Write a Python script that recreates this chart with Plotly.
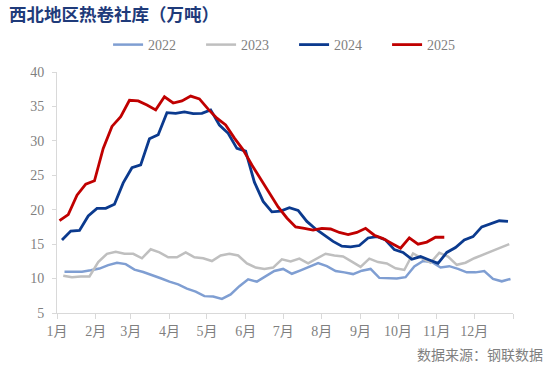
import plotly.graph_objects as go
import pandas as pd

# ---- data (weekly, 万吨) ----
series_names = ["2022", "2023", "2024", "2025"]
start_dates = ["2022-01-07", "2023-01-06", "2024-01-05", "2025-01-03"]

values_2022 = [11.0, 11.0, 11.0, 11.2, 11.45, 11.95, 12.3, 12.1, 11.3, 10.95,
               10.55, 10.05, 9.55, 9.15, 8.55, 8.1, 7.45, 7.4, 7.05, 7.7,
               8.9, 9.9, 9.55, 10.3, 11.1, 11.4, 10.7, 11.2, 11.75, 12.25,
               11.8, 11.1, 10.9, 10.65, 11.15, 11.4, 10.1, 10.1, 10.0, 10.2,
               11.75, 12.55, 12.4, 11.6, 11.8, 11.4, 10.9, 10.9, 11.1, 9.95,
               9.6, 9.95]
values_2023 = [10.4, 10.2, 10.3, 10.3, 12.4, 13.6, 13.9, 13.6, 13.6, 12.95,
               14.25, 13.8, 13.1, 13.1, 13.8, 13.1, 12.95, 12.55, 13.35, 13.6,
               13.35, 12.2, 11.6, 11.4, 11.6, 12.8, 12.5, 12.9, 12.2, 12.95,
               13.6, 13.35, 13.2, 12.45, 11.7, 12.9, 12.4, 12.2, 11.5, 11.25,
               13.65, 12.95, 12.3, 13.75, 13.2, 12.0, 12.3, 12.95, 13.5, 14.05,
               14.5, 15.0]
values_2024 = [15.6, 16.9, 17.0, 19.1, 20.2, 20.2, 20.8, 23.9, 26.1, 26.5,
               30.3, 30.9, 34.1, 34.0, 34.2, 33.95, 34.0, 34.5, 32.3, 31.1,
               28.9, 28.5, 24.0, 21.2, 19.7, 19.8, 20.3, 19.9, 18.3, 17.2,
               16.3, 15.4, 14.7, 14.6, 14.8, 15.9, 16.1, 15.6, 14.2, 13.8,
               12.8, 13.2, 12.7, 12.2, 13.8, 14.5, 15.6, 16.1, 17.5, 18.0,
               18.4, 18.3]
values_2025 = [18.4, 19.3, 22.1, 23.7, 24.2, 28.9, 32.1, 33.5, 35.9, 35.8,
               35.2, 34.5, 36.4, 35.5, 35.8, 36.5, 36.1, 34.6, 33.3, 32.3,
               30.4, 28.7, 26.5, 24.4, 22.3, 20.4, 18.8, 17.5, 17.3, 17.05,
               17.3, 17.2, 16.7, 16.4, 16.7, 17.3, 16.3, 15.8, 15.1, 14.4,
               15.9, 15.0, 15.3, 16.0, 16.0]

series_values = [values_2022, values_2023, values_2024, values_2025]
series_colors = ["#7F9ED2", "#BFBFBF", "#0B3A8E", "#C00000"]
series_widths = [2.5, 2.5, 2.8, 2.8]

month_labels = ["1月", "2月", "3月", "4月", "5月", "6月", "7月", "8月",
                "9月", "10月", "11月", "12月", ""]
month_starts = [0, 31, 59, 90, 120, 151, 181, 212, 243, 273, 304, 334, 365]

title_text = "西北地区热卷社库（万吨）"
source_text = "数据来源：钢联数据"

fig = go.Figure()
for name, start, vals, col, w in zip(series_names, start_dates, series_values,
                                     series_colors, series_widths):
    dates = pd.date_range(start, periods=len(vals), freq="7D")
    x = [(d - pd.Timestamp(year=d.year, month=1, day=1)).days for d in dates]
    fig.add_trace(go.Scatter(x=x, y=vals, mode="lines", name=name,
                             line=dict(color=col, width=w)))

axis_font = dict(family="Liberation Serif, Noto Sans CJK SC", size=14, color="#7f7f7f")

fig.update_layout(
    width=550, height=366,
    margin=dict(l=57, r=37, t=72, b=53),
    plot_bgcolor="white", paper_bgcolor="white",
    showlegend=True,
    legend=dict(orientation="h", x=0.112, xanchor="left", y=1.112, yanchor="middle",
                font=dict(family="Liberation Serif", size=14, color="#7f7f7f"),
                entrywidth=48, entrywidthmode="pixels",
                tracegroupgap=0, bgcolor="rgba(0,0,0,0)"),
    xaxis=dict(range=[0, 365], tickmode="array", tickvals=month_starts,
               ticktext=month_labels, showgrid=False, zeroline=False,
               showline=True, linecolor="#d9d9d9", linewidth=1,
               ticks="outside", ticklen=5, tickcolor="#d9d9d9",
               tickfont=axis_font),
    yaxis=dict(range=[5, 40], tickmode="array", tickvals=[5, 10, 15, 20, 25, 30, 35, 40],
               showgrid=False, zeroline=False, showline=True, linecolor="#d9d9d9",
               linewidth=1, ticks="outside", ticklen=4, tickcolor="#d9d9d9",
               ticklabelstandoff=5, tickfont=axis_font),
    annotations=[
        dict(text="<b>" + title_text + "</b>", xref="paper", yref="paper",
             x=-0.109, y=1.243, xanchor="left", yanchor="middle", showarrow=False,
             font=dict(family="Noto Sans CJK SC", size=17.5, color="#1F3B7A")),
        dict(text=source_text, xref="paper", yref="paper",
             x=1.07, y=-0.17, xanchor="right", yanchor="middle", showarrow=False,
             font=dict(family="Noto Sans CJK SC", size=14, color="#7f7f7f")),
    ],
)

fig.write_html("out.html", config={"displayModeBar": False},
               post_script="document.body.style.margin='0px';")
